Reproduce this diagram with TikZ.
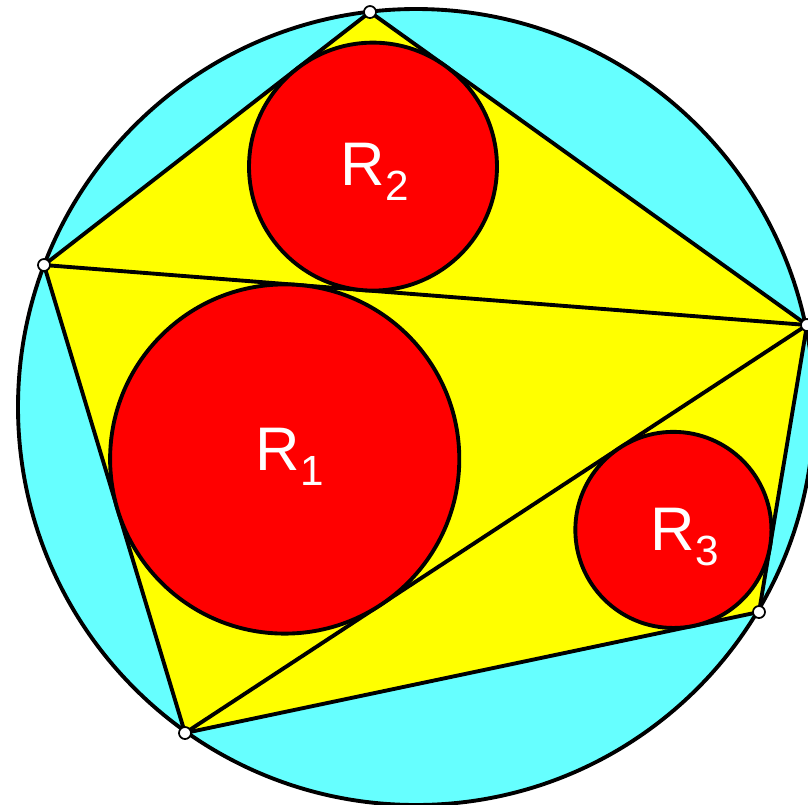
\documentclass[tikz,border=0pt]{standalone}
\usepackage{fontspec}
\setmainfont{Liberation Sans}
\usetikzlibrary{calc}
\definecolor{skycyan}{RGB}{102,255,255}
\definecolor{polyyellow}{RGB}{255,255,0}
\definecolor{discred}{RGB}{255,0,0}
\tikzstyle{edge} = [line width=1.1pt, draw=black]
\tikzstyle{disc} = [circle, draw=black, line width=1.1pt, fill=discred, inner sep=0pt]
\tikzstyle{vertex} = [circle, draw=black, line width=0.5pt, fill=white, minimum size=0.12cm, inner sep=0pt]
\tikzstyle{radlabel} = [text=white, inner sep=0pt, anchor=base west]
\newcommand{\radname}[1]{{\fontsize{17.5}{17.5}\selectfont R\raisebox{-4.5pt}{\fontsize{12}{12}\selectfont #1}}}

\begin{document}
\begin{tikzpicture}[x=0.01cm, y=-0.01cm]
    \useasboundingbox (0,0) rectangle (808,805);
    % circumcircle
    \coordinate (o) at (416,407);
    \draw[edge, fill=skycyan] (o) circle (398);
    % pentagon corners
    \coordinate (top) at (370,12);
    \coordinate (left) at (44,265);
    \coordinate (right) at (807,325);
    \coordinate (lowright) at (759,612);
    \coordinate (bottom) at (185,733);
    \fill[polyyellow] (top) -- (right) -- (lowright) -- (bottom) -- (left) -- cycle;
    \draw[edge, line join=round] (top) -- (right) -- (lowright) -- (bottom) -- (left) -- cycle;
    \draw[edge] (left) -- (right);
    \draw[edge] (right) -- (bottom);
    % incircles
    \node[disc, minimum size=3.49cm] (d1) at (284.7,459.0) {};
    \node[disc, minimum size=2.478cm] (d2) at (373.0,166.6) {};
    \node[disc, minimum size=1.96cm] (d3) at (673.4,529.9) {};
    % corner dots
    \foreach \v in {top,left,right,lowright,bottom}
        \node[vertex] (dot-\v) at (\v) {};
    % labels
    \node[radlabel] (r1) at (255,470) {\radname{1}};
    \node[radlabel] (r2) at (340,185) {\radname{2}};
    \node[radlabel] (r3) at (650,550) {\radname{3}};
\end{tikzpicture}
\end{document}
